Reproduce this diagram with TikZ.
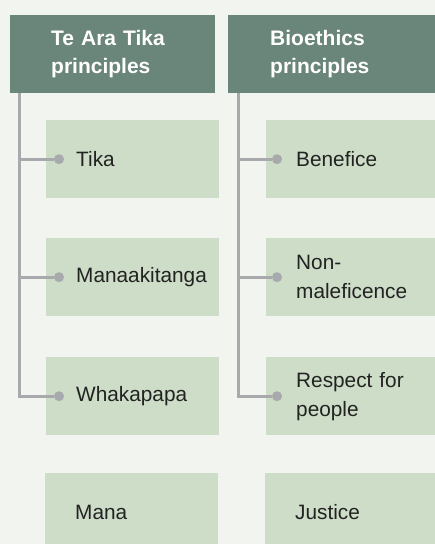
\documentclass[tikz,border=0pt]{standalone}
\usepackage{fontspec}
\setmainfont{Liberation Sans}
\definecolor{bg}{HTML}{F2F4EF}
\definecolor{headfill}{HTML}{6A8579}
\definecolor{cellfill}{HTML}{CEDDC8}
\definecolor{railgrey}{HTML}{A8A9AD}
\definecolor{ink}{HTML}{222222}
\begin{document}
\begin{tikzpicture}[x=1pt,y=-1pt,
  head/.style={fill=headfill, text=white, anchor=north west,
    font=\bfseries\fontsize{21}{28}\selectfont, align=left,
    minimum height=77.7pt, inner xsep=41pt, inner ysep=0pt, text width=#1},
  cell/.style={fill=cellfill, text=ink, anchor=north west,
    font=\fontsize{20.8}{29}\selectfont, align=left,
    minimum height=78pt, inner xsep=30pt, inner ysep=0pt, text width=#1},
  dot/.style={circle, fill=railgrey, inner sep=0pt, minimum size=10pt},
  rail/.style={draw=railgrey, line width=2.7pt}
]
\useasboundingbox (0,0) rectangle (435,544);
\fill[bg] (0,0) rectangle (435,544);

% column headings
\node[head=123pt] (h1) at (10,15) {Te Ara Tika\\principles};
\node[head=135pt, inner xsep=42pt] (h2) at (228,15) {Bioethics\\principles};

% Te Ara Tika column
\node[cell=113pt] (a1) at (46,120) {Tika};
\node[cell=113pt] (a2) at (46,238) {Manaakitanga};
\node[cell=113pt] (a3) at (46,357) {Whakapapa};
\node[cell=113pt] (a4) at (45,473) {Mana};

% Bioethics column
\node[cell=120pt] (b1) at (266,120) {Benefice};
\node[cell=120pt] (b2) at (266,238) {Non-\\maleficence};
\node[cell=120pt] (b3) at (266,357) {Respect for\\people};
\node[cell=120pt] (b4) at (265,473) {Justice};

% bullet points on the linked cells
\node[dot] (da1) at ([xshift=13pt]a1.west) {};
\node[dot] (da2) at ([xshift=13pt]a2.west) {};
\node[dot] (da3) at ([xshift=13pt]a3.west) {};
\node[dot] (db1) at ([xshift=11pt]b1.west) {};
\node[dot] (db2) at ([xshift=11pt]b2.west) {};
\node[dot] (db3) at ([xshift=11pt]b3.west) {};

% rails leaving each heading
\coordinate (ra) at ([xshift=9.4pt]h1.south west);
\coordinate (rb) at ([xshift=10.4pt]h2.south west);

\draw[rail] (ra) |- (da3);
\draw[rail] (ra |- da1) -- (da1);
\draw[rail] (ra |- da2) -- (da2);

\draw[rail] (rb) |- (db3);
\draw[rail] (rb |- db1) -- (db1);
\draw[rail] (rb |- db2) -- (db2);
\end{tikzpicture}
\end{document}
